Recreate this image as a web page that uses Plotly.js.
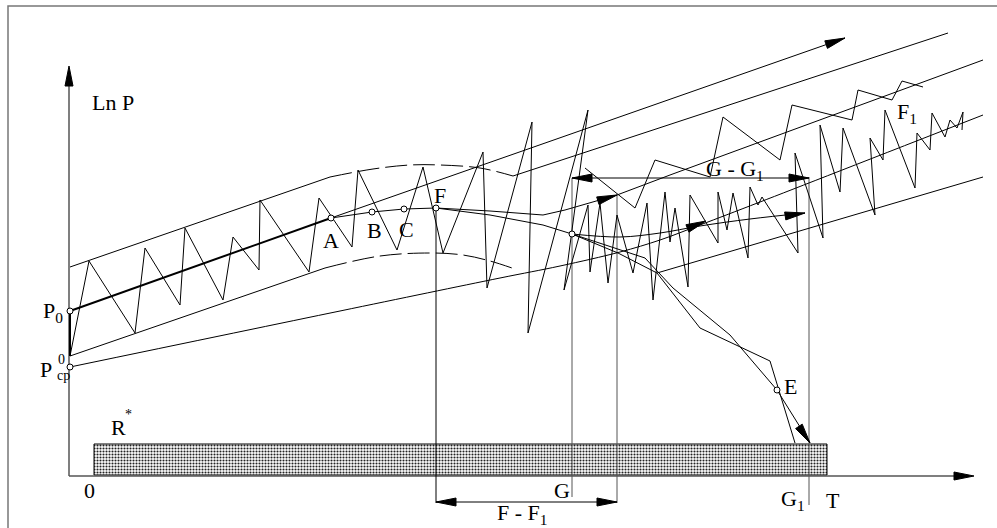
<!DOCTYPE html>
<html>
<head>
<meta charset="utf-8">
<script src="https://cdn.plot.ly/plotly-3.0.1.min.js"></script>
<style>
  html, body { margin: 0; padding: 0; background: #fff; }
  #chart { width: 997px; height: 528px; }
</style>
</head>
<body>
<div id="chart"></div>
<script>
// sketch units: x to the right, y downward, one unit per pixel of the 997x528 sheet

// price zigzag (the fluctuating series)
var zigX = [70, 89, 135, 145, 180, 185, 223, 233, 259, 260, 309, 319, 352, 358, 397, 423, 443, 483, 487, 532, 528, 588, 564, 588, 590, 600, 608, 617, 633, 647, 653, 665, 670, 675, 688, 690, 718, 718, 727, 733, 748, 750, 758, 762, 798, 795, 823, 820, 840, 843, 875, 870, 883, 885, 915, 917, 930, 932, 945, 950, 957, 963, 962];
var zigY = [356, 261, 333, 248, 305, 228, 300, 237, 270, 200, 272, 198, 247, 170, 250, 167, 253, 152, 288, 122, 333, 110, 290, 205, 272, 203, 283, 215, 273, 203, 300, 192, 242, 208, 287, 195, 243, 192, 230, 193, 258, 187, 205, 197, 253, 153, 238, 125, 192, 128, 215, 138, 160, 110, 188, 133, 150, 113, 137, 120, 128, 112, 130];

// upper wide-tooth path ending near F1
var upX = [585, 635, 655, 710, 723, 780, 792, 852, 858, 892, 902, 923];
var upY = [168, 208, 160, 177, 117, 160, 105, 120, 90, 100, 81, 87];

// channel borders
var chanTopX = [70, 330];
var chanTopY = [267, 177];
var chanTopDashX = [330, 373, 410, 440, 480, 513];
var chanTopDashY = [177, 169, 165, 165, 168, 176];
var chanLowX = [70, 325];
var chanLowY = [356, 268];
var chanLowDashX = [325, 380, 430, 463, 490, 512];
var chanLowDashY = [268, 256, 253, 255, 261, 268];

// trend line P0 -> A (bold) and its continuation through B, C, F
var trendX = [70, 331];
var trendY = [311, 218];
var trend2X = [331, 372, 404, 436, 490, 543, 565, 617, 670, 983];
var trend2Y = [218, 212, 209, 208, 211, 215, 210, 195, 175, 60];

// straight rays
var rayAX = [331, 845];
var rayAY = [218, 38];
var rayBX = [513, 948];
var rayBY = [176, 33];
// curve from P_cp, bending upward after G
var rayCpX = [70, 340, 500, 560, 620, 660, 700, 760, 983];
var rayCpY = [367, 311, 278, 266, 252, 240, 225, 202, 115];
// ray leaving the falling branch
var rayDX = [657, 983];
var rayDY = [273, 177];

// falling branch F -> node -> E -> G1
var fallX = [436, 490, 543, 572];
var fallY = [208, 215, 225, 234];
var fallAX = [572, 645, 673, 730, 777, 810];
var fallAY = [234, 258, 288, 335, 390, 443];
var fallBX = [572, 618, 657, 700, 770, 795];
var fallBY = [234, 253, 273, 328, 361, 443];

// node -> right curve
var nodeX = [572, 620, 660, 700, 750, 805];
var nodeY = [234, 237, 233, 226, 219, 213];

// marked points
var dotX = [70, 70, 331, 372, 404, 436, 777, 572];
var dotY = [311, 367, 218, 212, 209, 208, 390, 234];

// verticals (x, top, bottom)
var vertX = [436, 572, 617, 809];
var vertTop = [208, 178, 195, 177];
var vertBot = [503, 497, 503, 505];

// reserve bar R*
var barX = [94, 827];
var barY = [444, 475];

// axes
var axisOrigin = [69, 476];
var axisYTop = 66;
var axisXEnd = 974;

// arrowheads: tip and a point behind it
var arrowTipX = [845, 617, 805, 706, 810, 572, 809, 436, 617];
var arrowTipY = [38, 195, 213, 221, 443, 178, 178, 502, 502];
var arrowBackX = [825, 597, 785, 686, 798, 592, 789, 456, 597];
var arrowBackY = [45, 201, 216, 229, 425, 178, 178, 502, 502];

// dimension lines
var dimGX = [572, 809];
var dimGY = [178, 178];
var dimFX = [436, 617];
var dimFY = [502, 502];

// labels
var labelText = ['Ln P', 'P<sub>0</sub>', 'P', 'A', 'B', 'C', 'F', 'E', 'F<sub>1</sub>', 'G - G<sub>1</sub>', 'F - F<sub>1</sub>', 'G', 'G<sub>1</sub>', 'T', '0', 'R'];
var labelX = [113, 53, 46, 331, 374, 406, 440, 790, 907, 735, 522, 562, 793, 833, 89, 118];
var labelY = [102, 312, 369, 240, 230, 229, 195, 386, 113, 170, 514, 490, 500, 500, 490, 427];
var smallText = ['0', 'cp', '*'];
var smallX = [61, 63, 128];
var smallY = [359, 375, 414];

var ink = '#000';
var grey = '#555';
var traces = [];

function addLine(xs, ys, color, width, dash, shape) {
    traces.push({
        x: xs, y: ys, type: 'scatter', mode: 'lines',
        line: {color: color, width: width, dash: dash || 'solid', shape: shape || 'linear'},
        hoverinfo: 'skip'
    });
}

function addArrow(tx, ty, bx, by, color) {
    var dx = tx - bx, dy = ty - by;
    var len = Math.sqrt(dx * dx + dy * dy);
    var ux = dx / len, uy = dy / len;
    var hl = 20, hw = 4;
    var baseX = tx - ux * hl, baseY = ty - uy * hl;
    traces.push({
        x: [tx, baseX - uy * hw, baseX + uy * hw, tx],
        y: [ty, baseY + ux * hw, baseY - ux * hw, ty],
        type: 'scatter', mode: 'lines', fill: 'toself',
        fillcolor: color, line: {color: color, width: 1},
        hoverinfo: 'skip'
    });
}

// frame (only top and left edges fall inside the sheet)
addLine([8, 8, 997], [528, 6, 6], '#777', 1.5);

// reserve bar
traces.push({
    x: [barX[0], barX[1], barX[1], barX[0], barX[0]],
    y: [barY[0], barY[0], barY[1], barY[1], barY[0]],
    type: 'scatter', mode: 'lines', fill: 'toself',
    fillcolor: '#fff',
    fillpattern: {shape: '.', size: 3, solidity: 0.4, fgcolor: '#222', bgcolor: '#fff'},
    line: {color: '#000', width: 1},
    hoverinfo: 'skip'
});

// axes
addLine([axisOrigin[0], axisOrigin[0]], [axisOrigin[1], axisYTop + 10], grey, 1.5);
addLine([axisOrigin[0], axisXEnd - 10], [axisOrigin[1], axisOrigin[1]], grey, 1.5);
addArrow(axisOrigin[0], axisYTop, axisOrigin[0], axisYTop + 20, ink);
addArrow(axisXEnd, axisOrigin[1], axisXEnd - 20, axisOrigin[1], ink);

// verticals
for (var i = 0; i < vertX.length; i++) {
    addLine([vertX[i], vertX[i]], [vertTop[i], vertBot[i]], i === 0 ? ink : grey, 1);
}
addLine([70, 70], [311, 356], ink, 2);

addLine(chanTopX, chanTopY, ink, 1);
addLine(chanTopDashX, chanTopDashY, ink, 1, '22px,6px', 'spline');
addLine(chanLowX, chanLowY, ink, 1);
addLine(chanLowDashX, chanLowDashY, ink, 1, '22px,6px', 'spline');
addLine(trendX, trendY, ink, 2);
addLine(trend2X, trend2Y, ink, 1);
addLine(rayAX, rayAY, ink, 1);
addLine(rayBX, rayBY, ink, 1);
addLine(rayCpX, rayCpY, ink, 1, null, 'spline');
addLine(rayDX, rayDY, ink, 1);
addLine(fallX, fallY, ink, 1);
addLine(fallAX, fallAY, ink, 1);
addLine(fallBX, fallBY, ink, 1);
addLine(nodeX, nodeY, ink, 1, null, 'spline');
addLine(zigX, zigY, ink, 1);
addLine(upX, upY, ink, 1);
addLine(dimGX, dimGY, ink, 1);
addLine(dimFX, dimFY, ink, 1);

for (var k = 0; k < arrowTipX.length; k++) {
    addArrow(arrowTipX[k], arrowTipY[k], arrowBackX[k], arrowBackY[k], ink);
}

traces.push({
    x: dotX, y: dotY, type: 'scatter', mode: 'markers',
    marker: {size: 6, color: '#fff', line: {color: ink, width: 1}},
    hoverinfo: 'skip'
});

var annotations = [];
for (var j = 0; j < labelText.length; j++) {
    annotations.push({
        x: labelX[j], y: labelY[j], xref: 'x', yref: 'y',
        text: labelText[j], showarrow: false,
        xanchor: 'center', yanchor: 'middle',
        font: {family: 'Liberation Serif', size: 22, color: ink}
    });
}
for (var m = 0; m < smallText.length; m++) {
    annotations.push({
        x: smallX[m], y: smallY[m], xref: 'x', yref: 'y',
        text: smallText[m], showarrow: false,
        xanchor: 'center', yanchor: 'middle',
        font: {family: 'Liberation Serif', size: 14, color: ink}
    });
}

var layout = {
    width: 997,
    height: 528,
    margin: {l: 0, r: 0, t: 0, b: 0},
    paper_bgcolor: '#fff',
    plot_bgcolor: '#fff',
    showlegend: false,
    xaxis: {range: [0, 997], visible: false, fixedrange: true},
    yaxis: {range: [528, 0], visible: false, fixedrange: true},
    annotations: annotations
};

Plotly.newPlot('chart', traces, layout, {staticPlot: true});
</script>
</body>
</html>
